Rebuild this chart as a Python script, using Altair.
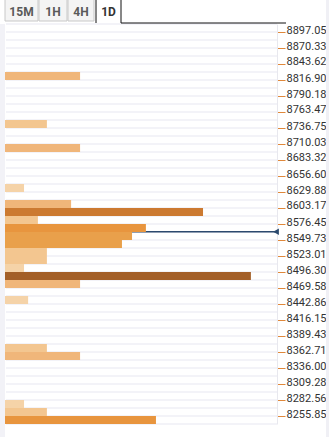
import altair as alt
import pandas as pd

# ---- data ----
tick_labels = [8897.05, 8870.33, 8843.62, 8816.90, 8790.18, 8763.47, 8736.75, 8710.03,
               8683.32, 8656.60, 8629.88, 8603.17, 8576.45, 8549.73, 8523.01, 8496.30,
               8469.58, 8442.86, 8416.15, 8389.43, 8362.71, 8336.00, 8309.28, 8282.56,
               8255.85]
bar_prices = [8823.58, 8743.43, 8703.35, 8636.56, 8609.85, 8596.49, 8583.13, 8569.77,
              8556.41, 8543.05, 8529.70, 8516.34, 8502.98, 8489.62, 8476.26, 8449.55,
              8369.40, 8356.04, 8275.89, 8262.53, 8249.17]
bar_values = [27.6, 15.4, 27.6, 7.0, 24.3, 72.8, 12.1, 51.8,
              46.7, 43.0, 15.4, 15.4, 7.0, 90.4, 27.6, 8.5,
              15.4, 27.6, 7.0, 15.4, 55.5]
bar_levels = ["medium", "light", "medium", "vlight", "medium", "dark", "light", "orange",
              "orange2", "orange2", "light", "light", "vlight", "brown", "medium", "vlight",
              "light", "medium", "vlight", "light", "orange"]
current_price = 8563.5
tabs = ["15M", "1H", "4H", "1D"]

level_domain = ["vlight", "light", "medium", "orange2", "orange", "dark", "brown"]
level_colors = ["#f5d3a8", "#f3c690", "#f0b67a", "#e9a04b", "#e8953e", "#cc7a31", "#a35f28"]

step = (tick_labels[0] - tick_labels[-1]) / 48
y_top = tick_labels[0] + step
y_bot = tick_labels[-1] - step

W, H = 272, 400
yscale = alt.Scale(domain=[y_bot, y_top], nice=False, zero=False)
xscale = alt.Scale(domain=[0, 100], nice=False)
yaxis = alt.Axis(orient="right", values=tick_labels, format=".2f",
                 labelFont="Roboto", labelFontSize=11, labelColor="#333333",
                 labelBaseline="alphabetic", labelPadding=1, labelOffset=1,
                 tickColor="#e0883a", tickSize=8, tickWidth=1,
                 domainColor="#e8e8ee", domainWidth=1, grid=False, title=None)

bars_df = pd.DataFrame({"price": bar_prices, "value": bar_values, "level": bar_levels})
bars_df["lo"] = bars_df["price"] - step / 2
bars_df["hi"] = bars_df["price"] + step / 2

bounds_df = pd.DataFrame({"b": [y_top - step * k for k in range(51)]})
one = pd.DataFrame({"d": [0]})

# row separators
grid = alt.Chart(bounds_df).mark_rule(color="#f3f3f8", strokeWidth=2).encode(
    y=alt.Y("b:Q", scale=yscale, axis=yaxis),
    x=alt.value(1), x2=alt.value(W),
)

# current price line
price_line = alt.Chart(pd.DataFrame({"p": [current_price]})).mark_rule(
    color="#2c4a6e", strokeWidth=1.5).encode(
    y=alt.Y("p:Q", scale=yscale, axis=yaxis),
    x=alt.value(0), x2=alt.value(W - 2),
)

bars = alt.Chart(bars_df).mark_rect().encode(
    y=alt.Y("lo:Q", scale=yscale, axis=yaxis),
    y2="hi:Q",
    x=alt.X("value:Q", scale=xscale, axis=None),
    x2=alt.value(0),
    color=alt.Color("level:N", scale=alt.Scale(domain=level_domain, range=level_colors),
                    legend=None),
)

marker = alt.Chart(pd.DataFrame({"p": [current_price]})).mark_point(
    shape="triangle-left", filled=True, size=45, color="#2c4a6e", opacity=1).encode(
    y=alt.Y("p:Q", scale=yscale, axis=yaxis),
    x=alt.value(W - 1),
)

# side strips
left_strip = alt.Chart(one).mark_rect(color="#f2f2f7").encode(
    x=alt.value(-5), x2=alt.value(0), y=alt.value(0), y2=alt.value(H + 13))
right_strip = alt.Chart(one).mark_rect(color="#f0f0f5").encode(
    x=alt.value(321), x2=alt.value(324), y=alt.value(-24), y2=alt.value(H + 13))

# tabs
tab_boxes = [(0, 33), (34, 62), (63, 89), (91, 116)]
layers_tabs = []
for (x0, x1), name in zip(tab_boxes, tabs):
    active = name == "1D"
    if not active:
        layers_tabs.append(alt.Chart(one).mark_rect(
            fill="#f4f4f4", stroke="#c8c8c8", strokeWidth=1).encode(
            x=alt.value(x0), x2=alt.value(x1), y=alt.value(-30), y2=alt.value(-3)))
    layers_tabs.append(alt.Chart(pd.DataFrame({"t": [name]})).mark_text(
        font="Roboto", fontSize=12, fontWeight="bold",
        color="#333333" if active else "#5a5a5a", baseline="middle").encode(
        text="t:N", x=alt.value((x0 + x1) / 2), y=alt.value(-12)))

tab_line = alt.Chart(one).mark_rule(color="#111111", strokeWidth=1).encode(
    x=alt.value(116), x2=alt.value(281), y=alt.value(-1))
tab_left = alt.Chart(one).mark_rule(color="#111111", strokeWidth=1).encode(
    x=alt.value(91), y=alt.value(-30), y2=alt.value(-1))
tab_right = alt.Chart(one).mark_rule(color="#111111", strokeWidth=1).encode(
    x=alt.value(116), y=alt.value(-30), y2=alt.value(-1))

chart = alt.layer(
    left_strip, right_strip, grid, price_line, bars, marker,
    *layers_tabs, tab_line, tab_left, tab_right
).properties(
    width=W, height=H,
    autosize=alt.AutoSizeParams(type="none"),
    padding={"left": 5, "top": 24, "right": 52, "bottom": 13},
    background="#ffffff",
).configure_view(stroke=None, fill="#ffffff")

chart.save("out.html", embed_options={"renderer": "svg", "actions": False})
